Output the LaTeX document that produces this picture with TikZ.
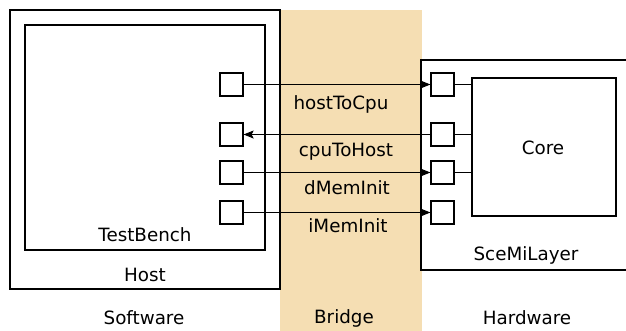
\documentclass[tikz,border=0pt]{standalone}
\usepackage{fontspec}
\setmainfont{DejaVu Sans}
\usetikzlibrary{arrows.meta}
\definecolor{bridgecol}{HTML}{F5DEB3}
\begin{document}
\begin{tikzpicture}[x=1pt,y=-1pt,
  box/.style={draw,line width=1.2pt,inner sep=0pt},
  port/.style={box,minimum width=23pt,minimum height=23pt},
  lbl/.style={inner sep=0pt,font=\fontsize{18.3}{20}\selectfont},
  link/.style={line width=1.1pt},
  arr/.style={link,-{Stealth[length=10pt,width=8pt,inset=2pt]}}]
\useasboundingbox (0,0) rectangle (626,330);
\clip (0,0) rectangle (626,330);
\fill[bridgecol] (280,10) rectangle (422,335);
\node[box,minimum width=270pt,minimum height=279pt] (host) at (145,149.5) {};
\node[box,minimum width=240pt,minimum height=225pt] (tb) at (145,137.5) {};
\node[box,minimum width=240pt,minimum height=210pt] (scemi) at (541,165) {};
\node[box,minimum width=144pt,minimum height=138pt] (core) at (544,147) {};
\node[port] (l1) at (231.5,84.5) {};
\node[port] (l2) at (231.5,134.5) {};
\node[port] (l3) at (231.5,172.5) {};
\node[port] (l4) at (231.5,212.5) {};
\node[port] (r1) at (442.5,84.5) {};
\node[port] (r2) at (442.5,134.5) {};
\node[port] (r3) at (442.5,172.5) {};
\node[port] (r4) at (442.5,212.5) {};
\draw[arr] (l1.east) -- (r1.west);
\draw[arr] (r2.west) -- (l2.east);
\draw[arr] (l3.east) -- (r3.west);
\draw[arr] (l4.east) -- (r4.west);
\draw[link] (r1.east) -- (r1.east -| core.west);
\draw[link] (r2.east) -- (r2.east -| core.west);
\draw[link] (r3.east) -- (r3.east -| core.west);
\node[lbl] (t1) at (341,104) {hostToCpu};
\node[lbl] (t2) at (346,152) {cpuToHost};
\node[lbl] (t3) at (347,188) {dMemInit};
\node[lbl] (t4) at (348,226) {iMemInit};
\node[lbl] (tcore) at (543,148) {Core};
\node[lbl] (tscemi) at (526,255) {SceMiLayer};
\node[lbl] (ttb) at (145,235) {TestBench};
\node[lbl] (thost) at (145,275) {Host};
\node[lbl] (tsw) at (144,318) {Software};
\node[lbl] (tbr) at (344,318) {Bridge};
\node[lbl] (thw) at (527,318) {Hardware};
\end{tikzpicture}
\end{document}
